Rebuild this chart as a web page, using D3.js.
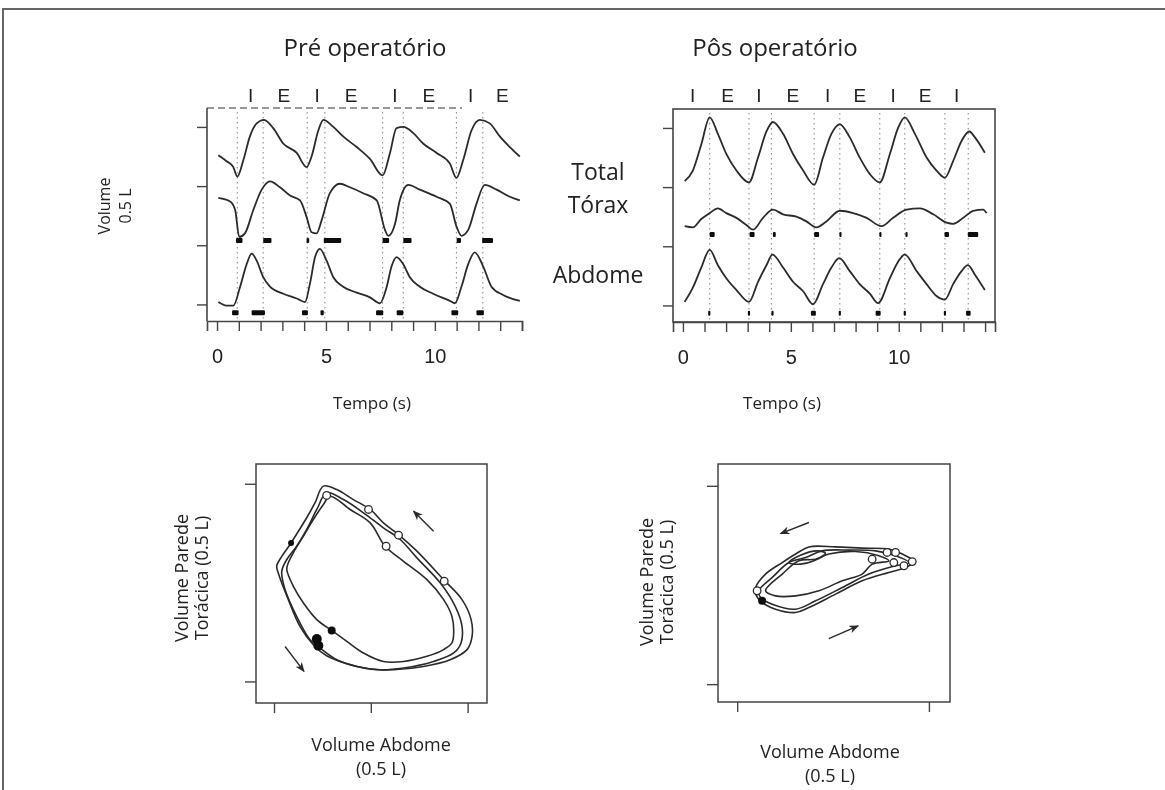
<!DOCTYPE html>
<html>
<head>
<meta charset="utf-8">
<script src="https://cdn.jsdelivr.net/npm/d3@7"></script>
<style>
  html, body { margin: 0; padding: 0; background: #fff; }
  svg { display: block; font-family: "Open Sans", sans-serif; }
</style>
</head>
<body>
<div id="chart"></div>
<script>
// ---- tick values / labels
const timeTicks = [0, 1, 2, 3, 4, 5, 6, 7, 8, 9, 10, 11, 12, 13, 14];
const timeTickLabels = [0, 5, 10];
const volumeTicks = [0, 0.5, 1.0, 1.5];

// ---- pre-op time traces [time s, volume L]
const preTotal = [[0.06,1.26],[0.44,1.21],[0.75,1.16],[0.93,1.08],[1.21,1.22],[1.51,1.42],[1.82,1.53],[2.16,1.56],[2.58,1.49],[3.04,1.36],[3.66,1.28],[4.11,1.16],[4.34,1.25],[4.65,1.47],[4.88,1.56],[5.34,1.50],[5.79,1.42],[6.41,1.33],[7.02,1.23],[7.6,1.09],[7.94,1.28],[8.24,1.49],[8.55,1.50],[9.0,1.45],[9.46,1.36],[10.08,1.28],[10.69,1.19],[10.99,1.07],[11.3,1.22],[11.68,1.47],[12.06,1.56],[12.52,1.53],[12.98,1.42],[13.44,1.33],[13.9,1.25]];
const preThorax = [[0.06,0.90],[0.60,0.87],[0.83,0.80],[1.02,0.57],[1.28,0.60],[1.67,0.80],[2.05,0.97],[2.43,1.04],[2.89,0.99],[3.35,0.92],[3.81,0.88],[4.11,0.74],[4.34,0.61],[4.57,0.60],[4.80,0.71],[5.18,0.94],[5.64,1.02],[6.1,0.99],[6.71,0.94],[7.33,0.88],[7.71,0.63],[7.86,0.58],[8.17,0.68],[8.39,0.88],[8.78,1.01],[9.31,0.97],[10.08,0.91],[10.69,0.85],[10.99,0.66],[11.22,0.58],[11.53,0.63],[11.91,0.85],[12.29,1.01],[12.83,0.97],[13.44,0.91],[13.9,0.88]];
const preAbdomen = [[0.06,0.02],[0.44,-0.01],[0.75,-0.01],[1.06,0.15],[1.36,0.34],[1.59,0.43],[1.82,0.37],[2.12,0.23],[2.43,0.15],[3.04,0.09],[3.66,0.05],[4.04,0.02],[4.27,0.18],[4.5,0.40],[4.72,0.47],[5.03,0.37],[5.34,0.23],[5.79,0.15],[6.41,0.10],[7.02,0.06],[7.48,0.01],[7.79,0.15],[8.01,0.32],[8.24,0.40],[8.55,0.34],[8.85,0.23],[9.31,0.15],[9.92,0.09],[10.69,0.03],[10.92,0.01],[11.22,0.15],[11.53,0.34],[11.83,0.44],[12.22,0.32],[12.6,0.15],[13.13,0.08],[13.9,0.03]];
const prePhaseLines = [0.93, 2.12, 4.14, 4.95, 7.6, 8.55, 10.99, 12.2];
const prePhaseLabels = ["I", "E", "I", "E", "I", "E", "I", "E"];
const prePhaseLabelTimes = [1.54, 3.07, 4.6, 6.15, 8.17, 9.72, 11.64, 13.1];
// [start s, end s] of black event bars
const preThoraxEvents = [[0.87,1.17],[2.12,2.5],[4.11,4.23],[4.9,5.7],[7.6,7.9],[8.55,8.93],[11.0,11.2],[12.17,12.67]];
const preAbdomenEvents = [[0.69,0.99],[1.59,2.2],[3.9,4.17],[4.75,4.9],[7.3,7.63],[8.25,8.55],[10.76,11.07],[11.91,12.25]];

// ---- post-op time traces
const postTotal = [[0.08,1.05],[0.46,1.14],[0.85,1.36],[1.24,1.59],[1.62,1.45],[2.01,1.28],[2.48,1.14],[3.06,1.04],[3.48,1.25],[3.87,1.47],[4.17,1.55],[4.64,1.45],[5.1,1.28],[5.57,1.14],[6.08,1.02],[6.49,1.25],[6.88,1.45],[7.27,1.53],[7.73,1.42],[8.19,1.25],[8.66,1.11],[9.12,1.04],[9.59,1.28],[9.97,1.50],[10.28,1.59],[10.75,1.45],[11.29,1.25],[11.75,1.14],[12.14,1.08],[12.52,1.22],[12.91,1.39],[13.27,1.47],[13.53,1.42],[13.99,1.29]];
const postThorax = [[0.08,0.67],[0.46,0.66],[0.85,0.73],[1.24,0.78],[1.62,0.82],[2.01,0.78],[2.48,0.74],[2.94,0.68],[3.25,0.64],[3.71,0.74],[4.17,0.81],[4.64,0.77],[5.26,0.75],[5.72,0.71],[6.19,0.66],[6.65,0.71],[7.27,0.80],[7.89,0.78],[8.51,0.74],[9.20,0.67],[9.74,0.74],[10.36,0.81],[10.98,0.82],[11.6,0.77],[12.22,0.70],[12.52,0.69],[12.99,0.74],[13.45,0.80],[13.91,0.81],[14.07,0.78]];
const postAbdomen = [[0.08,0.03],[0.46,0.15],[0.85,0.32],[1.24,0.47],[1.62,0.34],[2.01,0.23],[2.48,0.13],[3.06,0.03],[3.48,0.20],[3.87,0.34],[4.15,0.43],[4.64,0.32],[5.1,0.20],[5.57,0.12],[6.03,0.01],[6.49,0.18],[6.88,0.32],[7.24,0.40],[7.73,0.29],[8.19,0.18],[8.66,0.10],[9.04,0.02],[9.59,0.23],[9.97,0.37],[10.28,0.43],[10.83,0.29],[11.29,0.18],[11.75,0.08],[12.14,0.05],[12.52,0.18],[12.91,0.29],[13.2,0.34],[13.53,0.26],[13.99,0.13]];
const postPhaseLines = [1.24, 3.06, 4.10, 6.08, 7.27, 9.12, 10.28, 12.14, 13.22];
const postPhaseLabels = ["I", "E", "I", "E", "I", "E", "I", "E", "I"];
const postPhaseLabelTimes = [0.45, 2.07, 3.52, 5.09, 6.70, 8.20, 9.74, 11.22, 12.68];
const postThoraxEvents = [[1.24,1.47],[3.09,3.32],[4.17,4.30],[6.08,6.31],[7.25,7.35],[9.10,9.20],[10.31,10.41],[12.12,12.33],[13.2,13.68]];
const postAbdomenEvents = [[1.17,1.27],[3.01,3.11],[4.10,4.20],[5.93,6.16],[7.22,7.32],[8.93,9.16],[10.23,10.33],[12.09,12.19],[13.12,13.33]];

// ---- Konno-Mead loops [abdomen L, rib cage L]
const preLoops = [
  [[0.255,0.988],[0.324,0.971],[0.410,0.920],[0.497,0.870],[0.565,0.802],[0.643,0.743],[0.738,0.659],[0.876,0.515],[0.971,0.414],[1.018,0.313],[1.023,0.228],[0.997,0.161],[0.910,0.110],[0.772,0.076],[0.617,0.059],[0.497,0.063],[0.376,0.090],[0.272,0.130],[0.203,0.186],[0.134,0.279],[0.074,0.414],[0.022,0.549],[0.014,0.583],[0.040,0.633],[0.083,0.693],[0.126,0.760],[0.169,0.828],[0.212,0.904]],
  [[0.272,0.954],[0.359,0.920],[0.462,0.853],[0.565,0.777],[0.652,0.718],[0.738,0.625],[0.859,0.498],[0.936,0.380],[0.971,0.279],[0.966,0.195],[0.928,0.144],[0.824,0.101],[0.669,0.068],[0.548,0.059],[0.428,0.076],[0.324,0.110],[0.238,0.169],[0.186,0.211],[0.117,0.329],[0.057,0.465],[0.040,0.557],[0.066,0.617],[0.117,0.684],[0.169,0.769],[0.221,0.870]],
  [[0.290,0.937],[0.393,0.870],[0.497,0.802],[0.574,0.684],[0.669,0.608],[0.790,0.515],[0.876,0.414],[0.919,0.329],[0.928,0.245],[0.919,0.195],[0.876,0.161],[0.790,0.127],[0.669,0.101],[0.565,0.101],[0.462,0.144],[0.376,0.203],[0.298,0.258],[0.221,0.313],[0.152,0.397],[0.100,0.481],[0.066,0.566],[0.074,0.600],[0.109,0.667],[0.152,0.735],[0.203,0.819],[0.255,0.895]]
];
const preOpenMarks = [[0.272,0.941],[0.488,0.870],[0.643,0.740],[0.579,0.684],[0.879,0.507]];
const preFilledMarks = [[0.298,0.258,4],[0.221,0.215,5],[0.229,0.181,5],[0.088,0.700,3]];
const preArrows = [[[0.824,0.760],[0.721,0.861]], [[0.057,0.177],[0.155,0.051]]];

const postLoops = [
  [[0.096,0.487],[0.148,0.555],[0.235,0.613],[0.305,0.656],[0.374,0.692],[0.513,0.692],[0.652,0.686],[0.791,0.681],[0.861,0.656],[0.922,0.618],[0.878,0.588],[0.791,0.563],[0.652,0.521],[0.513,0.454],[0.374,0.386],[0.305,0.361],[0.200,0.378],[0.130,0.412],[0.096,0.454]],
  [[0.113,0.471],[0.183,0.538],[0.270,0.613],[0.357,0.638],[0.443,0.672],[0.583,0.676],[0.722,0.672],[0.826,0.647],[0.896,0.613],[0.826,0.597],[0.687,0.555],[0.548,0.487],[0.409,0.420],[0.305,0.378],[0.183,0.403],[0.122,0.437]],
  [[0.148,0.471],[0.235,0.555],[0.322,0.622],[0.409,0.630],[0.478,0.656],[0.618,0.669],[0.739,0.647],[0.791,0.622],[0.704,0.605],[0.652,0.555],[0.548,0.521],[0.426,0.471],[0.305,0.445],[0.200,0.445]],
  [[0.270,0.613],[0.330,0.650],[0.420,0.672],[0.460,0.660],[0.400,0.622],[0.330,0.605]]
];
const postOpenMarks = [[0.704,0.630],[0.782,0.664],[0.826,0.664],[0.817,0.613],[0.870,0.597],[0.913,0.618],[0.104,0.471]];
const postFilledMarks = [[0.130,0.420,4]];
const postArrows = [[[0.374,0.815],[0.226,0.759]], [[0.478,0.230],[0.631,0.294]]];

// ---- layout
const width = 1165;
const height = 790;
const ink = "#2b2b2b";

const svg = d3
  .select("#chart")
  .append("svg")
  .attr("width", width)
  .attr("height", height);

const defs = svg.append("defs");
defs
  .append("filter")
  .attr("id", "scan")
  .append("feGaussianBlur")
  .attr("stdDeviation", 0.45);
defs
  .append("marker")
  .attr("id", "arrow-head")
  .attr("viewBox", "0 0 10 8")
  .attr("refX", 9)
  .attr("refY", 4)
  .attr("markerWidth", 10)
  .attr("markerHeight", 8)
  .attr("markerUnits", "userSpaceOnUse")
  .attr("orient", "auto")
  .append("path")
  .attr("d", "M0,0 L10,4 L0,8 L3,4 Z")
  .attr("fill", ink);

const root = svg.append("g").attr("filter", "url(#scan)");

// page frame of the scanned figure
root
  .append("path")
  .attr("d", `M3,${height} L3,9 L${width},9`)
  .attr("fill", "none")
  .attr("stroke", "#666")
  .attr("stroke-width", 2);

function addText(g, { x, y, text, size, rotate = false, family, anchor = "middle" }) {
  g.append("text")
    .attr("transform", `translate(${x},${y})${rotate ? " rotate(-90)" : ""}`)
    .attr("text-anchor", anchor)
    .attr("dy", "0.35em")
    .attr("font-size", size)
    .attr("font-family", family || null)
    .attr("fill", "#222")
    .text(text);
}

function renderTimePanel(cfg) {
  const x = d3.scaleLinear().domain(cfg.timeDomain).range(cfg.xRange);
  const y = d3.scaleLinear().domain([-0.14, 1.66]).range(cfg.yRange);
  const [left, right] = cfg.xRange;
  const [bottom, top] = cfg.yRange;
  const g = root.append("g");

  // frame
  if (cfg.fullBox) {
    g.append("rect")
      .attr("x", left)
      .attr("y", top)
      .attr("width", right - left)
      .attr("height", bottom - top)
      .attr("fill", "none")
      .attr("stroke", "#444")
      .attr("stroke-width", 1.6);
  } else {
    g.append("line")
      .attr("x1", left)
      .attr("x2", right - 60)
      .attr("y1", top)
      .attr("y2", top)
      .attr("stroke", "#777")
      .attr("stroke-width", 1.4)
      .attr("stroke-dasharray", "7,4");
    g.append("line")
      .attr("x1", left)
      .attr("x2", left)
      .attr("y1", top)
      .attr("y2", bottom)
      .attr("stroke", "#444")
      .attr("stroke-width", 1.6);
  }

  // dotted phase boundaries
  g.selectAll(".phase-line")
    .data(cfg.phaseLines)
    .join("line")
    .attr("class", "phase-line")
    .attr("x1", (d) => x(d))
    .attr("x2", (d) => x(d))
    .attr("y1", top + 4)
    .attr("y2", bottom - 2)
    .attr("stroke", "#8f8f8f")
    .attr("stroke-width", 1.1)
    .attr("stroke-dasharray", "1.4,3.6");

  // I / E labels
  g.selectAll(".phase-label")
    .data(cfg.phaseLabels)
    .join("text")
    .attr("class", "phase-label")
    .attr("x", (d, i) => x(cfg.phaseLabelTimes[i]))
    .attr("y", 102)
    .attr("text-anchor", "middle")
    .attr("font-family", "'Liberation Sans', Arial, sans-serif")
    .attr("font-size", 19)
    .attr("fill", "#222")
    .text((d) => d);

  // traces
  const line = d3
    .line()
    .x((d) => x(d[0]))
    .y((d) => y(d[1]))
    .curve(d3.curveMonotoneX);
  g.selectAll(".trace")
    .data(cfg.traces)
    .join("path")
    .attr("class", "trace")
    .attr("d", line)
    .attr("fill", "none")
    .attr("stroke", ink)
    .attr("stroke-width", 1.8)
    .attr("stroke-linejoin", "round");

  // event bars
  cfg.events.forEach(({ level, bars }) => {
    g.selectAll(null)
      .data(bars)
      .join("rect")
      .attr("x", (d) => x(d[0]))
      .attr("width", (d) => Math.max(2, x(d[1]) - x(d[0])))
      .attr("y", y(level) - 2.5)
      .attr("height", 5)
      .attr("rx", 1)
      .attr("fill", "#111");
  });

  // axes
  g.append("g")
    .attr("transform", `translate(0,${bottom})`)
    .call(
      d3
        .axisBottom(x)
        .tickValues(timeTicks)
        .tickSizeOuter(0)
        .tickSize(10)
        .tickPadding(18)
        .tickFormat((d) => (timeTickLabels.includes(d) ? d : ""))
    )
    .call((a) => a.select(".domain").attr("stroke", "#444").attr("stroke-width", 1.6))
    .call((a) => a.selectAll(".tick line").attr("stroke", "#444").attr("stroke-width", 1.4))
    .call((a) =>
      a
        .selectAll(".tick text")
        .attr("fill", "#222")
        .attr("font-size", 20)
        .attr("font-family", "'Liberation Sans', Arial, sans-serif")
    );

  g.append("g")
    .attr("transform", `translate(${left},0)`)
    .call(d3.axisLeft(y).tickValues(volumeTicks).tickSize(10).tickFormat(""))
    .call((a) => a.select(".domain").remove())
    .call((a) => a.selectAll(".tick line").attr("stroke", "#444").attr("stroke-width", 1.4));

  addText(g, { x: cfg.titleX, y: 48, text: cfg.title, size: 24 });
  addText(g, { x: cfg.titleX + 7, y: 403, text: "Tempo (s)", size: 17 });
}

function renderLoopPanel(cfg) {
  const x = d3.scaleLinear().domain(cfg.xDomain).range(cfg.xRange);
  const y = d3.scaleLinear().domain(cfg.yDomain).range(cfg.yRange);
  const [left, right] = cfg.xRange;
  const [bottom, top] = cfg.yRange;
  const g = root.append("g");

  g.append("rect")
    .attr("x", left)
    .attr("y", top)
    .attr("width", right - left)
    .attr("height", bottom - top)
    .attr("fill", "none")
    .attr("stroke", "#444")
    .attr("stroke-width", 1.5);

  const loop = d3
    .line()
    .x((d) => x(d[0]))
    .y((d) => y(d[1]))
    .curve(d3.curveCatmullRomClosed.alpha(0.5));
  g.selectAll(".loop")
    .data(cfg.loops)
    .join("path")
    .attr("class", "loop")
    .attr("d", loop)
    .attr("fill", "none")
    .attr("stroke", ink)
    .attr("stroke-width", 1.6);

  g.selectAll(".open-mark")
    .data(cfg.openMarks)
    .join("circle")
    .attr("class", "open-mark")
    .attr("cx", (d) => x(d[0]))
    .attr("cy", (d) => y(d[1]))
    .attr("r", 3.8)
    .attr("fill", "#fff")
    .attr("stroke", ink)
    .attr("stroke-width", 1.3);

  g.selectAll(".filled-mark")
    .data(cfg.filledMarks)
    .join("circle")
    .attr("class", "filled-mark")
    .attr("cx", (d) => x(d[0]))
    .attr("cy", (d) => y(d[1]))
    .attr("r", (d) => d[2])
    .attr("fill", "#111");

  g.selectAll(".arrow")
    .data(cfg.arrows)
    .join("line")
    .attr("class", "arrow")
    .attr("x1", (d) => x(d[0][0]))
    .attr("y1", (d) => y(d[0][1]))
    .attr("x2", (d) => x(d[1][0]))
    .attr("y2", (d) => y(d[1][1]))
    .attr("stroke", ink)
    .attr("stroke-width", 1.4)
    .attr("marker-end", "url(#arrow-head)");

  g.append("g")
    .attr("transform", `translate(0,${bottom})`)
    .call(d3.axisBottom(x).tickValues(cfg.xTicks).tickSize(10).tickFormat(""))
    .call((a) => a.select(".domain").remove())
    .call((a) => a.selectAll(".tick line").attr("stroke", "#444").attr("stroke-width", 1.4));
  g.append("g")
    .attr("transform", `translate(${left},0)`)
    .call(d3.axisLeft(y).tickValues(cfg.yTicks).tickSize(11).tickFormat(""))
    .call((a) => a.select(".domain").remove())
    .call((a) => a.selectAll(".tick line").attr("stroke", "#444").attr("stroke-width", 1.4));

  addText(g, { x: cfg.yLabelX, y: cfg.yLabelY, text: "Volume Parede", size: 18, rotate: true });
  addText(g, { x: cfg.yLabelX + 20, y: cfg.yLabelY, text: "Torácica (0.5 L)", size: 18, rotate: true });
  addText(g, { x: cfg.xLabelX, y: cfg.xLabelY, text: "Volume Abdome", size: 18 });
  addText(g, { x: cfg.xLabelX, y: cfg.xLabelY + 24, text: "(0.5 L)", size: 18 });
}

renderTimePanel({
  title: "Pré operatório",
  titleX: 365,
  timeDomain: [-0.46, 14],
  xRange: [207, 522],
  yRange: [321, 108],
  fullBox: false,
  traces: [preTotal, preThorax, preAbdomen],
  phaseLines: prePhaseLines,
  phaseLabels: prePhaseLabels,
  phaseLabelTimes: prePhaseLabelTimes,
  events: [
    { level: 0.54, bars: preThoraxEvents },
    { level: -0.07, bars: preAbdomenEvents },
  ],
});

renderTimePanel({
  title: "Pôs operatório",
  titleX: 775,
  timeDomain: [-0.46, 14.46],
  xRange: [673, 995],
  yRange: [322, 109],
  fullBox: true,
  traces: [postTotal, postThorax, postAbdomen],
  phaseLines: postPhaseLines,
  phaseLabels: postPhaseLabels,
  phaseLabelTimes: postPhaseLabelTimes,
  events: [
    { level: 0.60, bars: postThoraxEvents },
    { level: -0.065, bars: postAbdomenEvents },
  ],
});

// shared y label of the time panels and the trace names
addText(root, { x: 104, y: 206, text: "Volume", size: 16, rotate: true });
addText(root, { x: 125, y: 206, text: "0.5 L", size: 16, rotate: true });
addText(root, { x: 598, y: 172, text: "Total", size: 23 });
addText(root, { x: 598, y: 205, text: "Tórax", size: 23 });
addText(root, { x: 598, y: 275, text: "Abdome", size: 23 });

renderLoopPanel({
  xDomain: [-0.093, 1.10],
  yDomain: [-0.109, 1.10],
  xRange: [256, 487],
  yRange: [703, 464],
  xTicks: [0, 0.5, 1.0],
  yTicks: [0, 1.0],
  loops: preLoops,
  openMarks: preOpenMarks,
  filledMarks: preFilledMarks,
  arrows: preArrows,
  yLabelX: 182,
  yLabelY: 578,
  xLabelX: 381,
  xLabelY: 745,
});

renderLoopPanel({
  xDomain: [-0.10, 1.11],
  yDomain: [-0.09, 1.11],
  xRange: [718, 950],
  yRange: [702, 464],
  xTicks: [0, 1.0],
  yTicks: [0, 1.0],
  loops: postLoops,
  openMarks: postOpenMarks,
  filledMarks: postFilledMarks,
  arrows: postArrows,
  yLabelX: 647,
  yLabelY: 582,
  xLabelX: 830,
  xLabelY: 752,
});
</script>
</body>
</html>
